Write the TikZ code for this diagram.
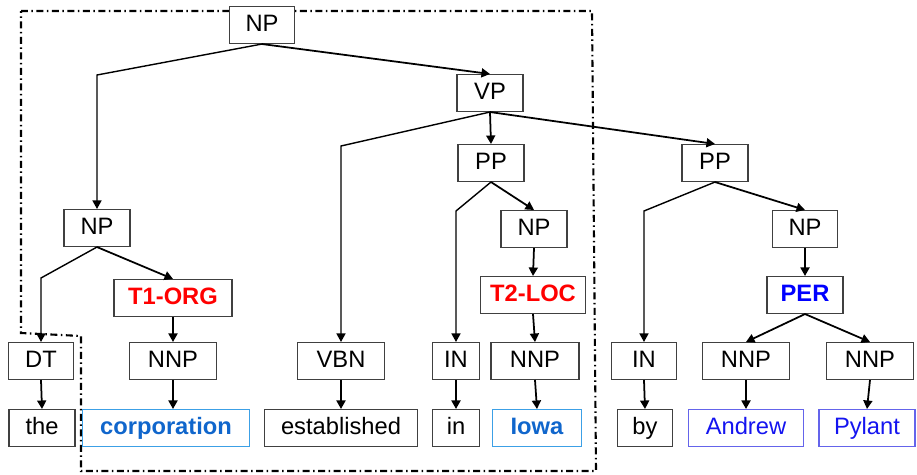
\documentclass[tikz,border=0pt]{standalone}
\usepackage{fontspec}
\setmainfont{Liberation Sans}
\usetikzlibrary{arrows.meta}
\definecolor{tagred}{RGB}{255,0,0}
\definecolor{wordblue}{RGB}{16,102,204}
\definecolor{wordframe}{RGB}{60,160,230}
\definecolor{perblue}{RGB}{0,0,255}
\definecolor{nameblue}{RGB}{20,20,240}
\definecolor{nameframe}{RGB}{100,100,235}
\tikzset{
  tag/.style={draw=black!75,line width=0.6pt,fill=white,inner sep=0pt,minimum height=0.74cm,
    text height=0.9em,text depth=0.15em,font=\fontsize{13.5}{16}\selectfont},
  enttag/.style={tag,text=tagred,font=\fontsize{13.5}{16}\selectfont\bfseries},
  pertag/.style={tag,text=perblue,font=\fontsize{13.5}{16}\selectfont\bfseries},
  argword/.style={tag,draw=wordframe,text=wordblue,font=\fontsize{13.5}{16}\selectfont\bfseries},
  nameword/.style={tag,draw=nameframe,text=nameblue},
  edge/.style={-{Triangle[length=1.7mm,width=1.8mm]},line width=1pt,draw=black},
  bent/.style={-{Triangle[length=1.7mm,width=1.8mm]},line width=0.8pt,draw=black}
}

\begin{document}
\begin{tikzpicture}[x=0.02cm,y=-0.02cm,
  span/.style={line width=1.2pt,dash pattern=on 0.14cm off 0.07cm on 0.03cm off 0.07cm}
]
\useasboundingbox (0,0) rectangle (917,474);
\draw[span] (21,11) -- (592,11) -- (596,471) -- (81,471) -- (81,336) -- (21,333) -- cycle;

\node[tag,minimum width=1.30cm] (np0) at (262,25) {NP};
\node[tag,minimum width=1.32cm] (vp) at (490,93) {VP};
\node[tag,minimum width=1.32cm] (pp1) at (491,163) {PP};
\node[tag,minimum width=1.32cm] (pp2) at (715,163) {PP};
\node[tag,minimum width=1.32cm] (np1) at (97,228) {NP};
\node[tag,minimum width=1.32cm] (np2) at (534,229) {NP};
\node[tag,minimum width=1.30cm] (np3) at (805,229) {NP};
\node[enttag,minimum width=2.36cm] (t1) at (173,298) {T1-ORG};
\node[enttag,minimum width=2.10cm] (t2) at (533,295) {T2-LOC};
\node[pertag,minimum width=1.52cm] (per) at (805,295) {PER};

\node[tag,minimum width=1.30cm] (dt) at (41,361) {DT};
\node[tag,minimum width=1.74cm] (nnp1) at (173,361) {NNP};
\node[tag,minimum width=1.74cm] (vbn) at (341,361) {VBN};
\node[tag,minimum width=0.94cm] (in1) at (456,361) {IN};
\node[tag,minimum width=1.76cm] (nnp2) at (535,361) {NNP};
\node[tag,minimum width=1.30cm] (in2) at (644,361) {IN};
\node[tag,minimum width=1.74cm] (nnp3) at (746,361) {NNP};
\node[tag,minimum width=1.74cm] (nnp4) at (870,361) {NNP};

\node[tag,minimum width=1.32cm] (the) at (42,428) {the};
\node[argword,minimum width=3.34cm] (corp) at (166,428) {corporation};
\node[tag,minimum width=3.06cm] (est) at (341,428) {established};
\node[tag,minimum width=0.94cm] (inw) at (456,428) {in};
\node[argword,minimum width=1.78cm] (iowa) at (537,428) {Iowa};
\node[tag,minimum width=1.10cm] (by) at (645,428) {by};
\node[nameword,minimum width=2.30cm] (andrew) at (746,428) {Andrew};
\node[nameword,minimum width=1.92cm] (pylant) at (867,428) {Pylant};

\draw[bent] (np0.south) -- (np1.north |- 0,75) -- (np1.north);
\draw[edge] (np0.south) -- (vp.north);
\draw[bent] (vp.south) -- (vbn.north |- 0,146) -- (vbn.north);
\draw[edge] (vp.south) -- (pp1.north);
\draw[edge] (vp.south) -- (pp2.north);
\draw[bent] (pp1.south) -- (in1.north |- 0,211) -- (in1.north);
\draw[edge] (pp1.south) -- (np2.north);
\draw[bent] (pp2.south) -- (in2.north |- 0,211) -- (in2.north);
\draw[edge] (pp2.south) -- (np3.north);
\draw[bent] (np1.south) -- (dt.north |- 0,278) -- (dt.north);
\draw[edge] (np1.south) -- (t1.north);
\draw[edge] (np2.south) -- (t2.north);
\draw[edge] (np3.south) -- (per.north);
\draw[edge] (t1.south) -- (nnp1.north);
\draw[edge] (t2.south) -- (nnp2.north);
\draw[edge] (per.south) -- (nnp3.north);
\draw[edge] (per.south) -- (nnp4.north);
\draw[edge] (dt.south) -- (the.north);
\draw[edge] (nnp1.south) -- (nnp1.south |- corp.north);
\draw[edge] (vbn.south) -- (est.north);
\draw[edge] (in1.south) -- (inw.north);
\draw[edge] (nnp2.south) -- (iowa.north);
\draw[edge] (in2.south) -- (by.north);
\draw[edge] (nnp3.south) -- (andrew.north);
\draw[edge] (nnp4.south) -- (pylant.north);
\end{tikzpicture}
\end{document}
